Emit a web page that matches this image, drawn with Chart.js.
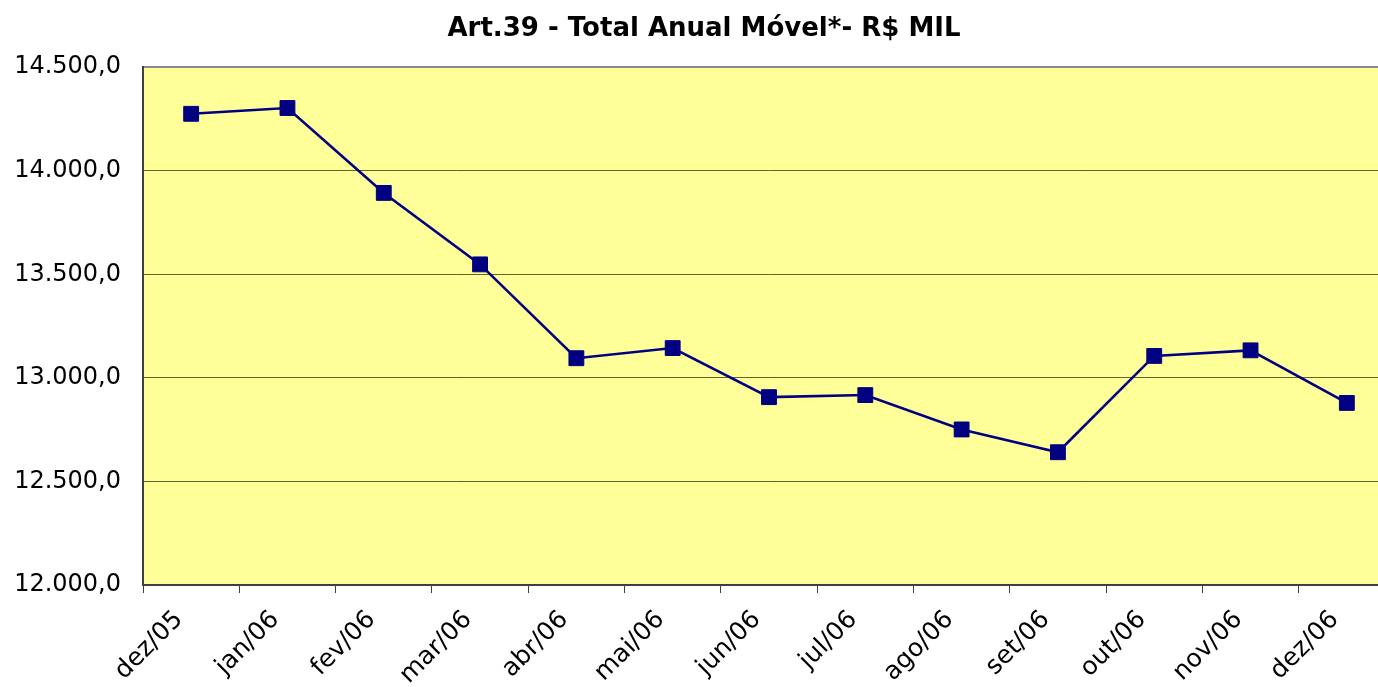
<!DOCTYPE html>
<html>
<head>
<meta charset="utf-8">
<title>Art.39 - Total Anual Móvel</title>
<script src="https://cdn.jsdelivr.net/npm/chart.js@4.4.1/dist/chart.umd.min.js"></script>
<style>
    html, body { margin: 0; padding: 0; background: #fff; overflow: hidden; }
    #wrap { width: 1408px; height: 687px; }
</style>
</head>
<body>
<div id="wrap"><canvas id="chart"></canvas></div>
<script>
const months = ['dez/05', 'jan/06', 'fev/06', 'mar/06', 'abr/06', 'mai/06', 'jun/06',
                'jul/06', 'ago/06', 'set/06', 'out/06', 'nov/06', 'dez/06'];
const totalAnual = [14275, 14303, 13893, 13548, 13095, 13144, 12907,
                    12917, 12751, 12641, 13106, 13133, 12879];
const yMin = 12000;
const yMax = 14500;
const yStep = 500;

// "14500" -> "14.500,0"
function formatBR(v) {
    const parts = Number(v).toFixed(1).split('.');
    const intPart = parts[0].replace(/\B(?=(\d{3})+(?!\d))/g, '.');
    return intPart + ',' + parts[1];
}

// yellow plot area
const plotBackground = {
    id: 'plotBackground',
    beforeDraw(chart) {
        const { ctx, chartArea } = chart;
        ctx.save();
        ctx.fillStyle = '#FFFF99';
        ctx.fillRect(chartArea.left, chartArea.top, chartArea.right - chartArea.left, chartArea.bottom - chartArea.top);
        ctx.restore();
    }
};

const ctx = document.getElementById('chart').getContext('2d');
const chart = new Chart(ctx, {
    type: 'line',
    data: {
        labels: months,
        datasets: [{
            label: 'Total Anual Móvel',
            data: totalAnual,
            borderColor: '#000080',
            backgroundColor: '#000080',
            borderWidth: 2.6,
            pointStyle: 'rect',
            pointRadius: 10.5,
            pointBorderWidth: 1,
            pointBorderColor: '#000080',
            pointBackgroundColor: '#000080',
            tension: 0
        }]
    },
    options: {
        responsive: true,
        maintainAspectRatio: false,
        animation: false,
        layout: { padding: { left: 13, right: 13, top: 0, bottom: 0 } },
        plugins: {
            legend: { display: false },
            tooltip: { enabled: false },
            title: {
                display: true,
                text: 'Art.39 - Total Anual Móvel*- R$ MIL',
                color: '#000',
                font: { family: 'DejaVu Sans', size: 26, weight: 'bold' },
                padding: { top: 14, bottom: 22 }
            }
        },
        scales: {
            x: {
                offset: true,
                grid: {
                    offset: true,
                    drawOnChartArea: false,
                    drawTicks: true,
                    tickLength: 8,
                    color: '#404040',
                    lineWidth: 1
                },
                border: { color: '#404040', width: 2 },
                ticks: {
                    color: '#000',
                    font: { family: 'DejaVu Sans', size: 25 },
                    minRotation: 45,
                    maxRotation: 45,
                    labelOffset: -12,
                    padding: 12
                },
                afterFit(scale) { scale.height = 102; }
            },
            y: {
                min: yMin,
                max: yMax,
                grid: {
                    drawTicks: false,
                    color: (c) => c.tick && c.tick.value === yMax ? '#888888' : 'rgba(60,60,20,0.8)',
                    lineWidth: (c) => c.tick && c.tick.value === yMax ? 2 : 1
                },
                border: { color: '#404040', width: 2 },
                ticks: {
                    stepSize: yStep,
                    color: '#000',
                    font: { family: 'DejaVu Sans', size: 24 },
                    padding: 22,
                    callback: (value) => formatBR(value)
                },
                afterFit(scale) { scale.width = 130; }
            }
        }
    },
    plugins: [plotBackground]
});
</script>
</body>
</html>
